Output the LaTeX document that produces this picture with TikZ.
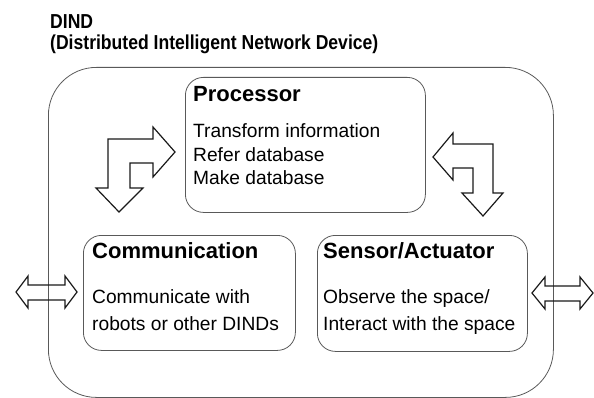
\documentclass[tikz,border=0pt]{standalone}
\usepackage{fontspec}
\setmainfont{Liberation Sans}
\newfontfamily\narrowfamily[FakeStretch=0.87]{Liberation Sans}
\newcommand\titlefont{\narrowfamily\fontsize{20.2}{24}\selectfont\bfseries}
\newcommand\headfont{\fontsize{22}{26}\selectfont\bfseries}
\newcommand\bodyfont{\fontsize{19.2}{23}\selectfont}
\tikzset{
  outer box/.style={draw=black!65, line width=0.8pt, rounded corners=48pt, anchor=north west, inner sep=0pt},
  unit box/.style={draw=black!65, line width=0.8pt, rounded corners=18pt, anchor=north west, inner sep=0pt},
  block arrow/.style={draw=black!90, line width=1.2pt, line join=miter},
  title text/.style={font=\titlefont, anchor=base west, inner sep=0pt},
  head text/.style={font=\headfont, anchor=base west, inner sep=0pt},
  body text/.style={font=\bodyfont, anchor=base west, inner sep=0pt},
}

\begin{document}
\begin{tikzpicture}[x=1pt, y=-1pt]
  \useasboundingbox (0,0) rectangle (594,398);
  \node[title text] (title1) at (50,29) {DIND};
  \node[title text] (title2) at (50,50) {(Distributed Intelligent Network Device)};
  % device frame and its three units
  \node[outer box, minimum width=505pt, minimum height=330pt] (dind) at (48,67) {};
  \node[unit box, minimum width=240pt, minimum height=135pt] (proc) at (185,77) {};
  \node[unit box, minimum width=212pt, minimum height=115pt] (comm) at (83,235) {};
  \node[unit box, minimum width=210pt, minimum height=116pt] (sens) at (317,235) {};
  \node[head text] (proc-head) at (193,102) {Processor};
  \node[head text] (comm-head) at (92,258) {Communication};
  \node[head text] (sens-head) at (323,258) {Sensor/Actuator};
  \foreach \txt [count=\i] in {Transform information, Refer database, Make database}
    \node[body text] (proc-\i) at ({193},{138+23.5*(\i-1)}) {\txt};
  \foreach \txt [count=\i] in {Communicate with, robots or other DINDs}
    \node[body text] (comm-\i) at ({92},{303+27*(\i-1)}) {\txt};
  \foreach \txt [count=\i] in {Observe the space/, Interact with the space}
    \node[body text] (sens-\i) at ({323},{303+27*(\i-1)}) {\txt};
  % bent arrows
  \draw[block arrow] (175,152) -- (153,127) -- (153,139) -- (108,139) -- (108,188)
    -- (96,188) -- (119,212) -- (143,188) -- (130,188) -- (130,163) -- (153,163)
    -- (153,177) -- cycle;
  \draw[block arrow] (433,157) -- (453,133) -- (453,144) -- (493,144) -- (493,193)
    -- (503,193) -- (483,216) -- (462,193) -- (473,193) -- (473,168) -- (453,168)
    -- (453,180) -- cycle;
  % in/out arrows
  \draw[block arrow] (16,292) -- (28,276) -- (28,285) -- (65,285) -- (65,276) -- (77,292)
    -- (65,308) -- (65,300) -- (28,300) -- (28,308) -- cycle;
  \draw[block arrow] (532,293) -- (545,277) -- (545,286) -- (580,286) -- (580,277) -- (593,293)
    -- (580,309) -- (580,301) -- (545,301) -- (545,309) -- cycle;
\end{tikzpicture}
\end{document}
